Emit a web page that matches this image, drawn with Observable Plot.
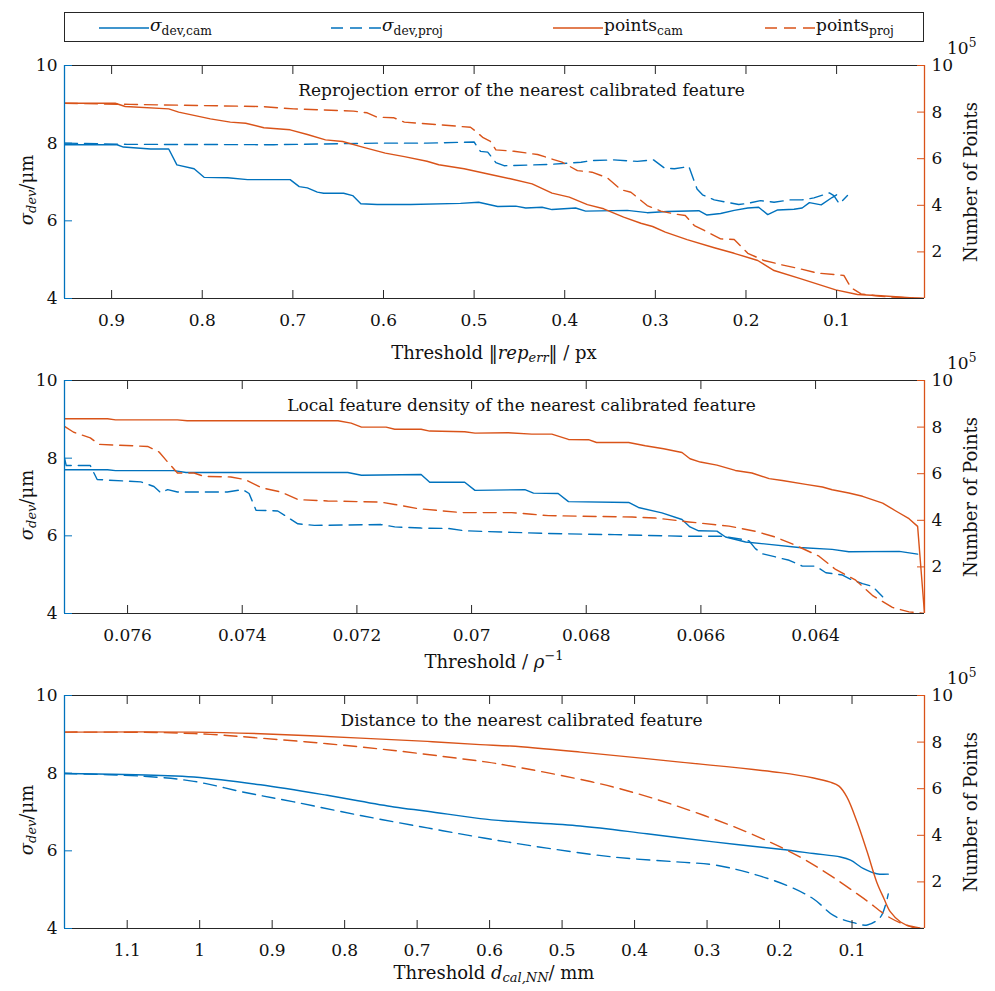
<!DOCTYPE html>
<html><head><meta charset="utf-8">
<script src="https://cdn.jsdelivr.net/npm/d3@7"></script>
<script src="https://cdn.jsdelivr.net/npm/@observablehq/plot@0.6"></script>
<style>
body{margin:0;background:#fff;}
#root{position:relative;width:995px;height:991px;overflow:hidden;font-family:'DejaVu Serif',serif;color:#111;}
.abs{position:absolute;white-space:nowrap;}
.ctr{transform:translate(-50%,-50%);}
.rot{transform:translate(-50%,-50%) rotate(-90deg);}
.lbl{font-size:18px;}
sub{font-size:0.72em;vertical-align:-0.3em;line-height:0;}
sup{font-size:0.72em;vertical-align:0.55em;line-height:0;}
#legend{position:absolute;left:64px;top:12px;width:858px;height:28px;border:1px solid #262626;background:#fff;}
</style></head><body><div id="root"></div>
<script>
const BLUE = "#0072BD", ORANGE = "#D95319";

// ---------- Panel 1: reprojection error threshold (px) ----------
const p1XDomain = [0.952, 0.003];
const p1XTicks = [0.9, 0.8, 0.7, 0.6, 0.5, 0.4, 0.3, 0.2, 0.1];
const p1SigmaCam = [[0.952,7.96],[0.894,7.96],[0.887,7.90],[0.857,7.85],[0.837,7.85],[0.828,7.44],[0.809,7.34],[0.798,7.12],[0.772,7.11],[0.750,7.06],[0.703,7.06],[0.693,6.88],[0.684,6.85],[0.673,6.74],[0.666,6.71],[0.644,6.71],[0.634,6.65],[0.625,6.44],[0.607,6.42],[0.570,6.42],[0.515,6.45],[0.495,6.48],[0.474,6.37],[0.454,6.38],[0.443,6.33],[0.425,6.35],[0.414,6.29],[0.388,6.33],[0.377,6.25],[0.331,6.27],[0.309,6.21],[0.287,6.24],[0.252,6.26],[0.243,6.15],[0.228,6.19],[0.213,6.27],[0.198,6.33],[0.186,6.35],[0.176,6.16],[0.165,6.28],[0.147,6.30],[0.138,6.33],[0.130,6.47],[0.117,6.41],[0.105,6.60],[0.100,6.67]];
const p1SigmaProj = [[0.952,8.00],[0.883,7.97],[0.721,7.96],[0.607,8.00],[0.552,8.00],[0.500,8.03],[0.493,7.79],[0.485,7.77],[0.476,7.50],[0.467,7.42],[0.419,7.45],[0.382,7.51],[0.371,7.55],[0.346,7.57],[0.320,7.53],[0.302,7.57],[0.290,7.36],[0.279,7.34],[0.263,7.40],[0.254,6.82],[0.248,6.67],[0.235,6.54],[0.208,6.42],[0.198,6.45],[0.184,6.52],[0.169,6.48],[0.151,6.54],[0.138,6.54],[0.125,6.59],[0.108,6.72],[0.103,6.65],[0.097,6.44],[0.088,6.65]];
const p1PointsCam = [[0.952,8.38],[0.896,8.38],[0.885,8.24],[0.837,8.14],[0.826,8.00],[0.791,7.71],[0.769,7.57],[0.752,7.52],[0.732,7.33],[0.703,7.24],[0.684,7.04],[0.664,6.81],[0.645,6.74],[0.625,6.52],[0.598,6.24],[0.577,6.09],[0.552,5.89],[0.539,5.74],[0.511,5.57],[0.482,5.32],[0.460,5.14],[0.436,4.92],[0.414,4.52],[0.395,4.35],[0.375,4.03],[0.357,3.85],[0.335,3.49],[0.316,3.23],[0.303,3.09],[0.289,2.85],[0.265,2.53],[0.235,2.18],[0.213,1.94],[0.187,1.63],[0.169,1.20],[0.140,0.85],[0.101,0.37],[0.077,0.17],[0.051,0.12],[0.015,0.02],[0.003,0.00]];
const p1PointsProj = [[0.952,8.38],[0.879,8.33],[0.736,8.24],[0.699,8.14],[0.633,8.04],[0.618,7.97],[0.607,7.78],[0.589,7.76],[0.577,7.57],[0.504,7.35],[0.498,7.17],[0.490,6.90],[0.482,6.74],[0.476,6.38],[0.456,6.32],[0.430,6.18],[0.403,5.85],[0.386,5.49],[0.370,5.42],[0.353,5.18],[0.338,4.67],[0.327,4.56],[0.309,3.99],[0.294,3.75],[0.279,3.63],[0.267,3.56],[0.257,3.13],[0.246,2.92],[0.228,2.56],[0.213,2.53],[0.198,1.94],[0.180,1.63],[0.162,1.46],[0.140,1.27],[0.121,1.09],[0.092,0.99],[0.084,0.46],[0.073,0.20],[0.051,0.09],[0.015,0.02],[0.003,0.00]];

// ---------- Panel 2: local feature density threshold ----------
const p2XDomain = [0.0771, 0.0621];
const p2XTicks = [0.076, 0.074, 0.072, 0.070, 0.068, 0.066, 0.064];
const p2SigmaCam = [[0.07710,7.70],[0.07635,7.70],[0.07621,7.68],[0.07519,7.68],[0.07498,7.63],[0.07216,7.63],[0.07192,7.56],[0.07088,7.58],[0.07073,7.38],[0.07012,7.38],[0.06994,7.17],[0.06907,7.19],[0.06892,7.10],[0.06849,7.09],[0.06831,6.88],[0.06726,6.86],[0.06709,6.73],[0.06668,6.59],[0.06633,6.42],[0.06619,6.23],[0.06604,6.13],[0.06572,6.12],[0.06557,5.97],[0.06522,5.84],[0.06481,5.78],[0.06429,5.70],[0.06371,5.65],[0.06342,5.59],[0.06254,5.60],[0.06222,5.53]];
const p2SigmaProj = [[0.07710,8.01],[0.07707,7.81],[0.07665,7.81],[0.07653,7.45],[0.07577,7.39],[0.07554,7.27],[0.07542,7.11],[0.07530,7.19],[0.07513,7.13],[0.07426,7.13],[0.07399,7.19],[0.07388,7.09],[0.07376,6.66],[0.07338,6.64],[0.07321,6.48],[0.07303,6.31],[0.07274,6.27],[0.07158,6.29],[0.07134,6.23],[0.07088,6.20],[0.07041,6.19],[0.07012,6.13],[0.06930,6.09],[0.06866,6.06],[0.06750,6.03],[0.06633,5.99],[0.06563,5.99],[0.06528,5.91],[0.06516,5.87],[0.06505,5.67],[0.06493,5.54],[0.06446,5.37],[0.06423,5.22],[0.06400,5.22],[0.06382,5.05],[0.06353,4.99],[0.06336,4.86],[0.06318,4.77],[0.06301,4.70],[0.06283,4.43]];
const p2PointsCam = [[0.07710,8.36],[0.07635,8.36],[0.07621,8.31],[0.07513,8.31],[0.07496,8.27],[0.07233,8.27],[0.07210,8.17],[0.07192,8.00],[0.07149,8.00],[0.07134,7.91],[0.07088,7.91],[0.07073,7.83],[0.07012,7.80],[0.06994,7.74],[0.06936,7.76],[0.06895,7.70],[0.06860,7.70],[0.06831,7.47],[0.06796,7.46],[0.06782,7.34],[0.06726,7.34],[0.06697,7.20],[0.06665,7.07],[0.06633,6.91],[0.06619,6.64],[0.06601,6.50],[0.06572,6.37],[0.06540,6.14],[0.06511,6.03],[0.06481,5.79],[0.06458,5.71],[0.06417,5.54],[0.06388,5.43],[0.06371,5.31],[0.06342,5.17],[0.06318,5.03],[0.06283,4.74],[0.06260,4.40],[0.06237,4.07],[0.06222,3.74],[0.06210,0.00]];
const p2PointsProj = [[0.07710,8.03],[0.07694,7.78],[0.07665,7.54],[0.07650,7.26],[0.07565,7.17],[0.07545,6.93],[0.07530,6.50],[0.07513,6.03],[0.07484,6.03],[0.07466,5.88],[0.07420,5.86],[0.07394,5.74],[0.07367,5.40],[0.07332,5.21],[0.07303,4.89],[0.07251,4.83],[0.07158,4.78],[0.07134,4.68],[0.07093,4.50],[0.07018,4.33],[0.06930,4.33],[0.06895,4.26],[0.06866,4.20],[0.06720,4.14],[0.06680,4.10],[0.06621,3.93],[0.06551,3.75],[0.06505,3.53],[0.06470,3.28],[0.06435,2.93],[0.06394,2.46],[0.06365,1.89],[0.06330,1.43],[0.06301,0.78],[0.06266,0.26],[0.06237,0.07],[0.06210,0.00]];

// ---------- Panel 3: distance to nearest calibrated feature (mm) ----------
const p3XDomain = [1.1865, 0.0];
const p3XTicks = [1.1, 1.0, 0.9, 0.8, 0.7, 0.6, 0.5, 0.4, 0.3, 0.2, 0.1];
const p3SigmaCam = [[1.187,7.99],[1.054,7.94],[1.008,7.90],[0.916,7.70],[0.824,7.43],[0.732,7.13],[0.686,7.02],[0.613,6.83],[0.571,6.76],[0.475,6.64],[0.383,6.44],[0.291,6.23],[0.199,6.04],[0.153,5.93],[0.116,5.84],[0.102,5.76],[0.084,5.54],[0.066,5.41],[0.050,5.40]];
const p3SigmaProj = [[1.187,7.99],[1.077,7.92],[1.008,7.79],[0.939,7.51],[0.870,7.26],[0.778,6.91],[0.686,6.59],[0.608,6.33],[0.576,6.23],[0.521,6.07],[0.429,5.84],[0.337,5.71],[0.291,5.64],[0.245,5.45],[0.190,5.11],[0.153,4.76],[0.125,4.33],[0.098,4.15],[0.079,4.09],[0.061,4.29],[0.054,4.59],[0.050,4.89]];
const p3PointsCam = [[1.187,8.43],[1.008,8.43],[0.916,8.36],[0.778,8.17],[0.686,8.03],[0.613,7.89],[0.571,7.83],[0.475,7.57],[0.337,7.14],[0.199,6.69],[0.153,6.46],[0.130,6.28],[0.118,6.11],[0.107,5.64],[0.093,4.57],[0.079,3.28],[0.066,2.00],[0.056,1.29],[0.047,0.71],[0.033,0.28],[0.015,0.04],[0.001,0.00]];
const p3PointsProj = [[1.187,8.43],[1.054,8.41],[0.985,8.33],[0.916,8.17],[0.824,7.93],[0.732,7.64],[0.640,7.29],[0.603,7.14],[0.576,7.00],[0.521,6.69],[0.429,6.07],[0.337,5.21],[0.245,4.14],[0.176,3.14],[0.130,2.28],[0.084,1.29],[0.047,0.45],[0.024,0.14],[0.001,0.00]];

const leftTicks = [4, 6, 8, 10];
const rightTicks = [2, 4, 6, 8, 10]; // ×10^5 points
const toLeft = v => 4 + v * 0.6;     // map right-axis value (0–10) onto left σ scale (4–10)
const DASH = "13,7";

const root = document.getElementById("root");
function el(html, cls, style) {
  const d = document.createElement("div");
  d.className = "abs " + (cls || "");
  d.innerHTML = html;
  Object.assign(d.style, style);
  root.appendChild(d);
  return d;
}

function panel(o) {
  const ink = "#262626";
  const marks = [
    Plot.ruleY([4, 10], {stroke: ink, strokeWidth: 1}),
    Plot.line(o.sigCam, {x: d => d[0], y: d => d[1], stroke: BLUE, strokeWidth: 1.4, curve: o.curve, clip: true}),
    Plot.line(o.sigProj, {x: d => d[0], y: d => d[1], stroke: BLUE, strokeWidth: 1.4, strokeDasharray: DASH, curve: o.curve, clip: true}),
    Plot.line(o.ptsCam, {x: d => d[0], y: d => toLeft(d[1]), stroke: ORANGE, strokeWidth: 1.4, curve: o.curve, clip: true}),
    Plot.line(o.ptsProj, {x: d => d[0], y: d => toLeft(d[1]), stroke: ORANGE, strokeWidth: 1.4, strokeDasharray: DASH, curve: o.curve, clip: true}),
    Plot.ruleX([o.xDomain[0]], {stroke: BLUE, strokeWidth: 1.3}),
    Plot.ruleX([o.xDomain[1]], {stroke: ORANGE, strokeWidth: 1.3}),
    Plot.axisX({anchor: "bottom", ticks: o.xTicks, tickSize: -8, tickFormat: () => "", stroke: ink, label: null}),
    Plot.axisX({anchor: "top", ticks: o.xTicks, tickSize: -8, tickFormat: () => "", stroke: ink, label: null}),
    Plot.axisX({anchor: "bottom", ticks: o.xTicks, tickSize: 0, tickPadding: 15, tickFormat: o.fmt, label: null, fill: "#111"}),
    Plot.axisY({anchor: "left", ticks: leftTicks, tickSize: -8, tickFormat: () => "", stroke: BLUE, label: null}),
    Plot.axisY({anchor: "left", ticks: leftTicks, tickSize: 0, tickPadding: 7, tickFormat: d3.format("d"), label: null, fill: "#111"}),
    Plot.axisY({anchor: "right", ticks: rightTicks.map(toLeft), tickSize: -8, tickFormat: () => "", stroke: ORANGE, label: null}),
    Plot.axisY({anchor: "right", ticks: rightTicks.map(toLeft), tickSize: 0, tickPadding: 7, label: null, fill: "#111",
      tickFormat: d => String(Math.round((d - 4) / 0.6))}),
    Plot.text([o.title], {text: d => d, frameAnchor: "top", dx: 27, dy: 18, fontSize: 17, fill: "#111"})
  ];
  const svg = Plot.plot({
    width: 995, height: 315,
    marginLeft: 64, marginRight: 71, marginTop: 25, marginBottom: 57,
    x: {domain: o.xDomain},
    y: {domain: [4, 10]},
    style: {fontFamily: "DejaVu Serif, serif", fontSize: "17px", background: "transparent", overflow: "visible"},
    marks
  });
  const wrap = document.createElement("div");
  wrap.className = "abs";
  wrap.style.left = "0px";
  wrap.style.top = o.top + "px";
  wrap.appendChild(svg);
  root.appendChild(wrap);

  const plotTop = o.top + 25, plotBot = o.top + 315 - 57, mid = (plotTop + plotBot) / 2;
  el('<i>σ</i><sub><i>dev</i></sub>/μm', "rot lbl", {left: "26px", top: (mid + 8) + "px"});
  el('Number of Points', "rot lbl", {left: "970px", top: mid + "px"});
  el('10<sup>5</sup>', "lbl", {left: "947px", top: (plotTop - 27) + "px", fontSize: "17px"});
  el(o.xlabel, "ctr lbl", {left: "494px", top: (plotBot + o.xlabOff) + "px"});
}

// legend
const legend = document.createElement("div");
legend.id = "legend";
root.appendChild(legend);
const legItems = [
  {x: 34, color: BLUE, dash: true, html: '<i>σ</i><sub>dev,cam</sub>', dashed: false},
  {x: 266, color: BLUE, html: '<i>σ</i><sub>dev,proj</sub>', dashed: true},
  {x: 488, color: ORANGE, html: 'points<sub>cam</sub>', dashed: false},
  {x: 700, color: ORANGE, html: 'points<sub>proj</sub>', dashed: true}
];
for (const it of legItems) {
  const s = document.createElementNS("http://www.w3.org/2000/svg", "svg");
  s.setAttribute("width", "52"); s.setAttribute("height", "10");
  s.style.position = "absolute"; s.style.left = it.x + "px"; s.style.top = "10px";
  const ln = document.createElementNS("http://www.w3.org/2000/svg", "line");
  ln.setAttribute("x1", "0"); ln.setAttribute("x2", "50"); ln.setAttribute("y1", "5"); ln.setAttribute("y2", "5");
  ln.setAttribute("stroke", it.color); ln.setAttribute("stroke-width", "1.4");
  if (it.dashed) ln.setAttribute("stroke-dasharray", "12,7");
  s.appendChild(ln);
  legend.appendChild(s);
  const t = document.createElement("div");
  t.className = "abs";
  t.style.left = (it.x + 51) + "px"; t.style.top = "2px"; t.style.fontSize = "17px";
  t.innerHTML = it.html;
  legend.appendChild(t);
}

panel({top: 40, xDomain: p1XDomain, xTicks: p1XTicks, fmt: d3.format(""), xlabOff: 54,
  sigCam: p1SigmaCam, sigProj: p1SigmaProj, ptsCam: p1PointsCam, ptsProj: p1PointsProj,
  curve: "linear", title: "Reprojection error of the nearest calibrated feature",
  xlabel: 'Threshold ‖<i>rep</i><sub><i>err</i></sub>‖ / px'});
panel({top: 355, xDomain: p2XDomain, xTicks: p2XTicks, fmt: d => d3.format("")(+d.toFixed(3)), xlabOff: 48,
  sigCam: p2SigmaCam, sigProj: p2SigmaProj, ptsCam: p2PointsCam, ptsProj: p2PointsProj,
  curve: "linear", title: "Local feature density of the nearest calibrated feature",
  xlabel: 'Threshold / <i>ρ</i><sup>−1</sup>'});
panel({top: 670, xDomain: p3XDomain, xTicks: p3XTicks, fmt: d3.format(""), xlabOff: 44,
  sigCam: p3SigmaCam, sigProj: p3SigmaProj, ptsCam: p3PointsCam, ptsProj: p3PointsProj,
  curve: "catmull-rom", title: "Distance to the nearest calibrated feature",
  xlabel: 'Threshold <i>d</i><sub><i>cal,NN</i></sub>/ mm'});
</script>
</body></html>
